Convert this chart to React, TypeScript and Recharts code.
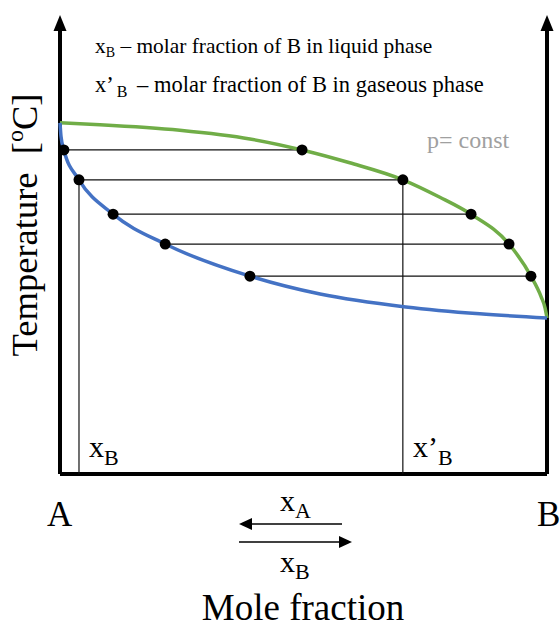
import { ComposedChart, Line, Scatter, XAxis, YAxis, ReferenceLine, ReferenceDot } from "recharts";

// composition of B (0 = pure A, 1 = pure B) and temperature (arbitrary units 0..100)
const dewX = [0, 0.082, 0.246, 0.39, 0.497, 0.595, 0.704, 0.78, 0.844, 0.922, 0.967, 0.988, 0.996, 1];
const dewT = [76.5, 76.1, 74.9, 73.0, 70.6, 67.8, 64.1, 60.3, 56.6, 50.1, 43.1, 38.6, 36.2, 34.0];

const bubbleX = [0, 0.002, 0.008, 0.039, 0.109, 0.216, 0.39, 0.534, 0.71, 0.862, 1];
const bubbleT = [76.5, 73.6, 70.6, 64.1, 56.6, 50.1, 43.1, 39.2, 36.4, 34.9, 34.0];

// tie lines: liquid composition, vapour composition, temperature
const tieLiquid = [0.008, 0.039, 0.109, 0.216, 0.39];
const tieVapour = [0.497, 0.704, 0.844, 0.922, 0.967];
const tieT = [70.6, 64.1, 56.6, 50.1, 43.1];

const readIndex = 1;

const dewData = dewX.map((x, i) => ({ x, t: dewT[i] }));
const bubbleData = bubbleX.map((x, i) => ({ x, t: bubbleT[i] }));
const dotData = tieT.flatMap((t, i) => [
  { x: tieLiquid[i], t },
  { x: tieVapour[i], t },
]);

const serif = { fontFamily: "'Liberation Serif', 'Times New Roman', serif", whiteSpace: "pre" as const };

const Dot = (p: any) => <circle cx={p.cx} cy={p.cy} r={5.5} fill="#000" />;

const ArrowHead = (p: any) => (
  <path d={`M${p.cx},${p.cy} L${p.cx - 6.5},${p.cy + 16} L${p.cx + 6.5},${p.cy + 16} Z`} fill="#000" />
);

export default function App() {
  return (
    <div style={{ position: "absolute", left: 0, top: 0, width: 560, height: 628, background: "#fff" }}>
      <ComposedChart width={560} height={628} margin={{ top: 15, right: 13, bottom: 154, left: 60 }}>
        <XAxis type="number" dataKey="x" domain={[0, 1]} hide />
        <YAxis type="number" dataKey="t" domain={[0, 100]} hide />

        {/* frame: two temperature axes and the composition axis */}
        <ReferenceLine segment={[{ x: 0, y: 0 }, { x: 0, y: 97 }]} stroke="#000" strokeWidth={4} />
        <ReferenceLine segment={[{ x: 1, y: 0 }, { x: 1, y: 97 }]} stroke="#000" strokeWidth={4} />
        <ReferenceLine segment={[{ x: 0, y: 0 }, { x: 1, y: 0 }]} stroke="#000" strokeWidth={4} ifOverflow="visible" />
        <ReferenceDot x={0} y={100} r={0} shape={ArrowHead} />
        <ReferenceDot x={1} y={100} r={0} shape={ArrowHead} />

        {tieT.map((t, i) => (
          <ReferenceLine
            key={i}
            segment={[{ x: tieLiquid[i], y: t }, { x: tieVapour[i], y: t }]}
            stroke="#111"
            strokeWidth={1.3}
          />
        ))}
        <ReferenceLine
          segment={[{ x: tieLiquid[readIndex], y: tieT[readIndex] }, { x: tieLiquid[readIndex], y: 0 }]}
          stroke="#111"
          strokeWidth={1.2}
        />
        <ReferenceLine
          segment={[{ x: tieVapour[readIndex], y: tieT[readIndex] }, { x: tieVapour[readIndex], y: 0 }]}
          stroke="#111"
          strokeWidth={1.2}
        />

        <Line data={dewData} dataKey="t" type="monotone" stroke="#70AD47" strokeWidth={3.5} dot={false} isAnimationActive={false} />
        <Line data={bubbleData} dataKey="t" type="monotone" stroke="#4472C4" strokeWidth={3.5} dot={false} isAnimationActive={false} />
        <Scatter data={dotData} dataKey="t" shape={Dot} isAnimationActive={false} />
      </ComposedChart>

      <svg width={560} height={628} style={{ position: "absolute", left: 0, top: 0, pointerEvents: "none" }}>
        <text x={95} y={53} fontSize={21.4} style={serif}>
          x<tspan fontSize={14} dy={4}>B</tspan>
          <tspan dy={-4}> – molar fraction of B in liquid phase</tspan>
        </text>
        <text x={95} y={92} fontSize={22.5} style={serif}>
          x’<tspan fontSize={16} dy={5} dx={3}>B</tspan>
          <tspan dy={-5} dx={4}> – molar fraction of B in gaseous phase</tspan>
        </text>
        <text x={427} y={148} fontSize={24} fill="#a0a0a0" style={serif}>p= const</text>

        <text transform="translate(37,225) rotate(-90)" textAnchor="middle" fontSize={36.5} style={serif}>
          Temperature  [<tspan fontSize={24} dy={-14}>o</tspan><tspan dy={14}>C]</tspan>
        </text>

        <text x={89} y={457} fontSize={30} style={serif}>
          x<tspan fontSize={22} dy={8}>B</tspan>
        </text>
        <text x={413} y={457} fontSize={30} style={serif}>
          x’<tspan fontSize={22} dy={8}>B</tspan>
        </text>

        <text x={47} y={526} fontSize={35} style={serif}>A</text>
        <text x={537} y={526} fontSize={35} style={serif}>B</text>

        <text x={280} y={511} fontSize={30} style={serif}>
          x<tspan fontSize={22} dy={7}>A</tspan>
        </text>
        <line x1={342} y1={524} x2={250} y2={524} stroke="#000" strokeWidth={1.5} />
        <path d="M239,524 L252,518 L252,530 Z" fill="#000" />
        <line x1={239} y1={542} x2={341} y2={542} stroke="#000" strokeWidth={1.5} />
        <path d="M352,542 L339,536 L339,548 Z" fill="#000" />
        <text x={280} y={572} fontSize={30} style={serif}>
          x<tspan fontSize={22} dy={7}>B</tspan>
        </text>

        <text x={303} y={620} fontSize={37} textAnchor="middle" style={serif}>Mole fraction</text>
      </svg>
    </div>
  );
}
